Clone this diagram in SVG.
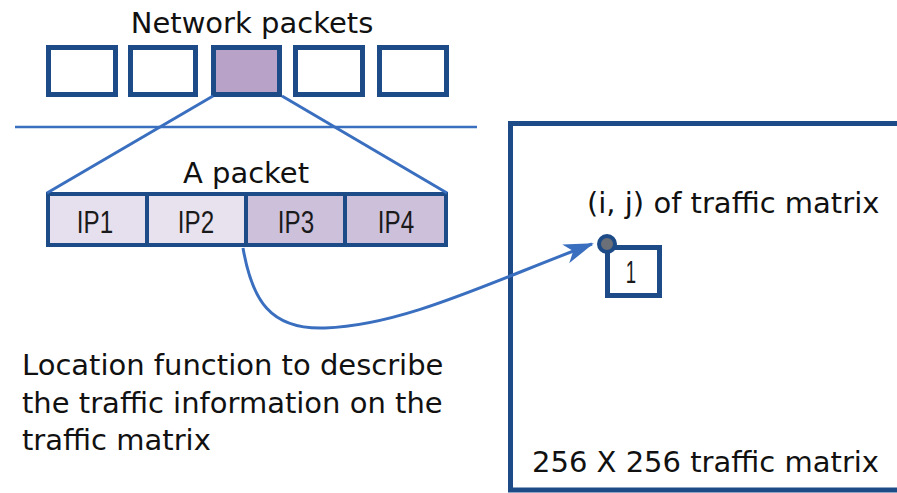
<svg xmlns="http://www.w3.org/2000/svg" width="897" height="493" viewBox="0 0 897 493">
  <defs>
    <style>
      .lbl { font-family: "DejaVu Sans", Verdana, sans-serif; font-size: 29px; fill: #111; }
      .ip { font-family: "Liberation Sans", Arial, sans-serif; font-size: 31px; fill: #1a1a1a; text-anchor: middle; }
      .pkt { fill: #ffffff; stroke: #1d4b88; stroke-width: 5; }
      .cell { stroke: #1d4b88; stroke-width: 4; }
      .link { fill: none; stroke: #3a6fbf; stroke-width: 3; }
    </style>
    <marker id="arrow" viewBox="0 0 30 20" refX="28" refY="10" markerWidth="30" markerHeight="20" markerUnits="userSpaceOnUse" orient="auto">
      <path d="M0,0 L30,10 L0,20 L8,10 Z" fill="#3a6fbf"/>
    </marker>
  </defs>

  <!-- stream of packets -->
  <g id="network-packets">
    <text class="lbl" x="252" y="33" text-anchor="middle">Network packets</text>
    <rect class="pkt" x="48.5" y="47.5" width="67" height="47"/>
    <rect class="pkt" x="130.5" y="47.5" width="65" height="47"/>
    <rect class="pkt" x="213.5" y="47.5" width="66" height="47" style="fill:#b8a2c8"/>
    <rect class="pkt" x="295.5" y="47.5" width="67" height="47"/>
    <rect class="pkt" x="379.5" y="47.5" width="67" height="47"/>
  </g>

  <!-- separator -->
  <line x1="15" y1="127" x2="477" y2="127" stroke="#3a6fbf" stroke-width="2.5"/>

  <!-- expanded packet -->
  <g id="packet">
    <text class="lbl" x="246" y="183" text-anchor="middle">A packet</text>
    <rect class="cell" x="48" y="194" width="99" height="51" fill="#e6dfee"/>
    <rect class="cell" x="147" y="194" width="99" height="51" fill="#e8e2ef"/>
    <rect class="cell" x="246" y="194" width="99" height="51" fill="#cdc0db"/>
    <rect class="cell" x="345" y="194" width="101" height="51" fill="#cdc0db"/>
    <text class="ip" transform="translate(95 233) scale(0.78 1)">IP1</text>
    <text class="ip" transform="translate(196 233) scale(0.78 1)">IP2</text>
    <text class="ip" transform="translate(296 233) scale(0.78 1)">IP3</text>
    <text class="ip" transform="translate(396 233) scale(0.78 1)">IP4</text>
  </g>

  <!-- traffic matrix -->
  <g id="traffic-matrix">
    <path d="M900,123.5 H510.5 V490 H900" fill="none" stroke="#1d4b88" stroke-width="5"/>
    <text class="lbl" x="587" y="213">(i, j) of traffic matrix</text>
    <text class="lbl" x="532" y="472">256 X 256 traffic matrix</text>
  </g>

  <g id="matrix-cell">
    <rect x="607.5" y="247.5" width="52" height="48" fill="#ffffff" stroke="#1d4b88" stroke-width="5"/>
    <text class="ip" transform="translate(631 283) scale(0.6 1)">1</text>
    <circle cx="607" cy="244" r="8" fill="#6b6f78" stroke="#1d4b88" stroke-width="4"/>
  </g>

  <!-- connectors -->
  <g id="connectors">
    <line class="link" x1="213" y1="96" x2="47" y2="193"/>
    <line class="link" x1="282" y1="96" x2="447" y2="193"/>
    <path class="link" d="M243,248 C252,300 270,330 325,328 C405,325 490,282 592,244" marker-end="url(#arrow)"/>
  </g>

  <text class="lbl" x="22" y="375">Location function to describe</text>
  <text class="lbl" x="22" y="413">the traffic information on the</text>
  <text class="lbl" x="22" y="450">traffic matrix</text>
</svg>
